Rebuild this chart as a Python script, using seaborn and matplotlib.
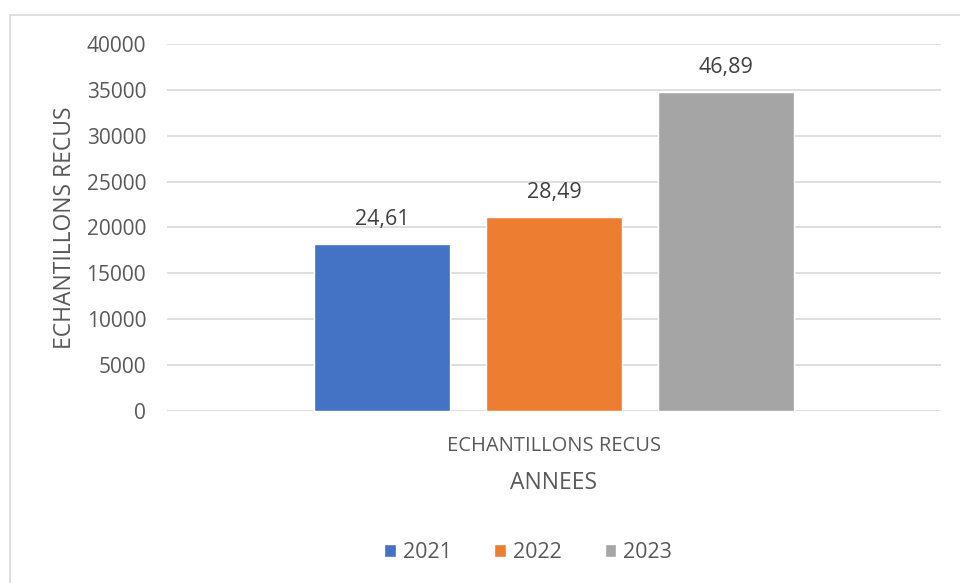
import matplotlib
matplotlib.use("Agg")
import matplotlib.pyplot as plt
import seaborn as sns
import pandas as pd
from matplotlib.patches import Rectangle

years = ["2021", "2022", "2023"]
values = [18200, 21150, 34750]
pct_labels = ["24,61", "28,49", "46,89"]
category = "ECHANTILLONS RECUS"
colors = ["#4472C4", "#ED7D31", "#A5A5A5"]
yticks = [0, 5000, 10000, 15000, 20000, 25000, 30000, 35000, 40000]

sns.set_theme(style="white")
plt.rcParams['font.family'] = ['Open Sans', 'DejaVu Sans']
txt = "#595959"

df = pd.DataFrame({"cat": [category] * 3, "year": years, "val": values})

fig = plt.figure(figsize=(9.6, 5.83), dpi=100)
ax = fig.add_axes([167/960, 1 - 411/583, (941 - 167)/960, (411 - 44)/583])

sns.barplot(data=df, x="cat", y="val", hue="year", palette=colors,
            width=0.667, gap=0.21, ax=ax, legend=True, saturation=1)

ax.set_ylim(0, 40000)
ax.set_xlim(-0.5, 0.5)
ax.set_yticks(yticks)
ax.set_yticklabels([str(t) for t in yticks], fontsize=15, color=txt)
ax.tick_params(axis="y", length=0, pad=15)
for lab in ax.get_xticklabels():
    lab.set_fontsize(14.5)
    lab.set_color(txt)
ax.tick_params(axis="x", length=0, pad=18)
ax.grid(axis="y", color="#d9d9d9", linewidth=1.2)
ax.set_axisbelow(True)
for s in ax.spines.values():
    s.set_visible(False)

for cont, lab in zip(ax.containers, pct_labels):
    ax.bar_label(cont, labels=[lab], padding=10, fontsize=15.5, color="#404040")

ax.set_xlabel("ANNEES", fontsize=16.5, color=txt, labelpad=11)
ax.set_ylabel("ECHANTILLONS RECUS", fontsize=16.5, color=txt, labelpad=7)

h, l = ax.get_legend_handles_labels()
ax.legend_.remove()
fig.legend(h, l, loc="center", bbox_to_anchor=(528/960, 1 - 553/583), ncol=3,
           frameon=False, fontsize=15.5, labelcolor=txt, handlelength=0.55,
           handleheight=0.55, handletextpad=0.3, columnspacing=2.0)

fig.patches.append(Rectangle((10/960, -0.1), 1.2, 1 - 15/583 + 0.1,
                             transform=fig.transFigure, fill=False,
                             edgecolor="#d9d9d9", linewidth=1.2))

fig.savefig("out.png", dpi=100)
